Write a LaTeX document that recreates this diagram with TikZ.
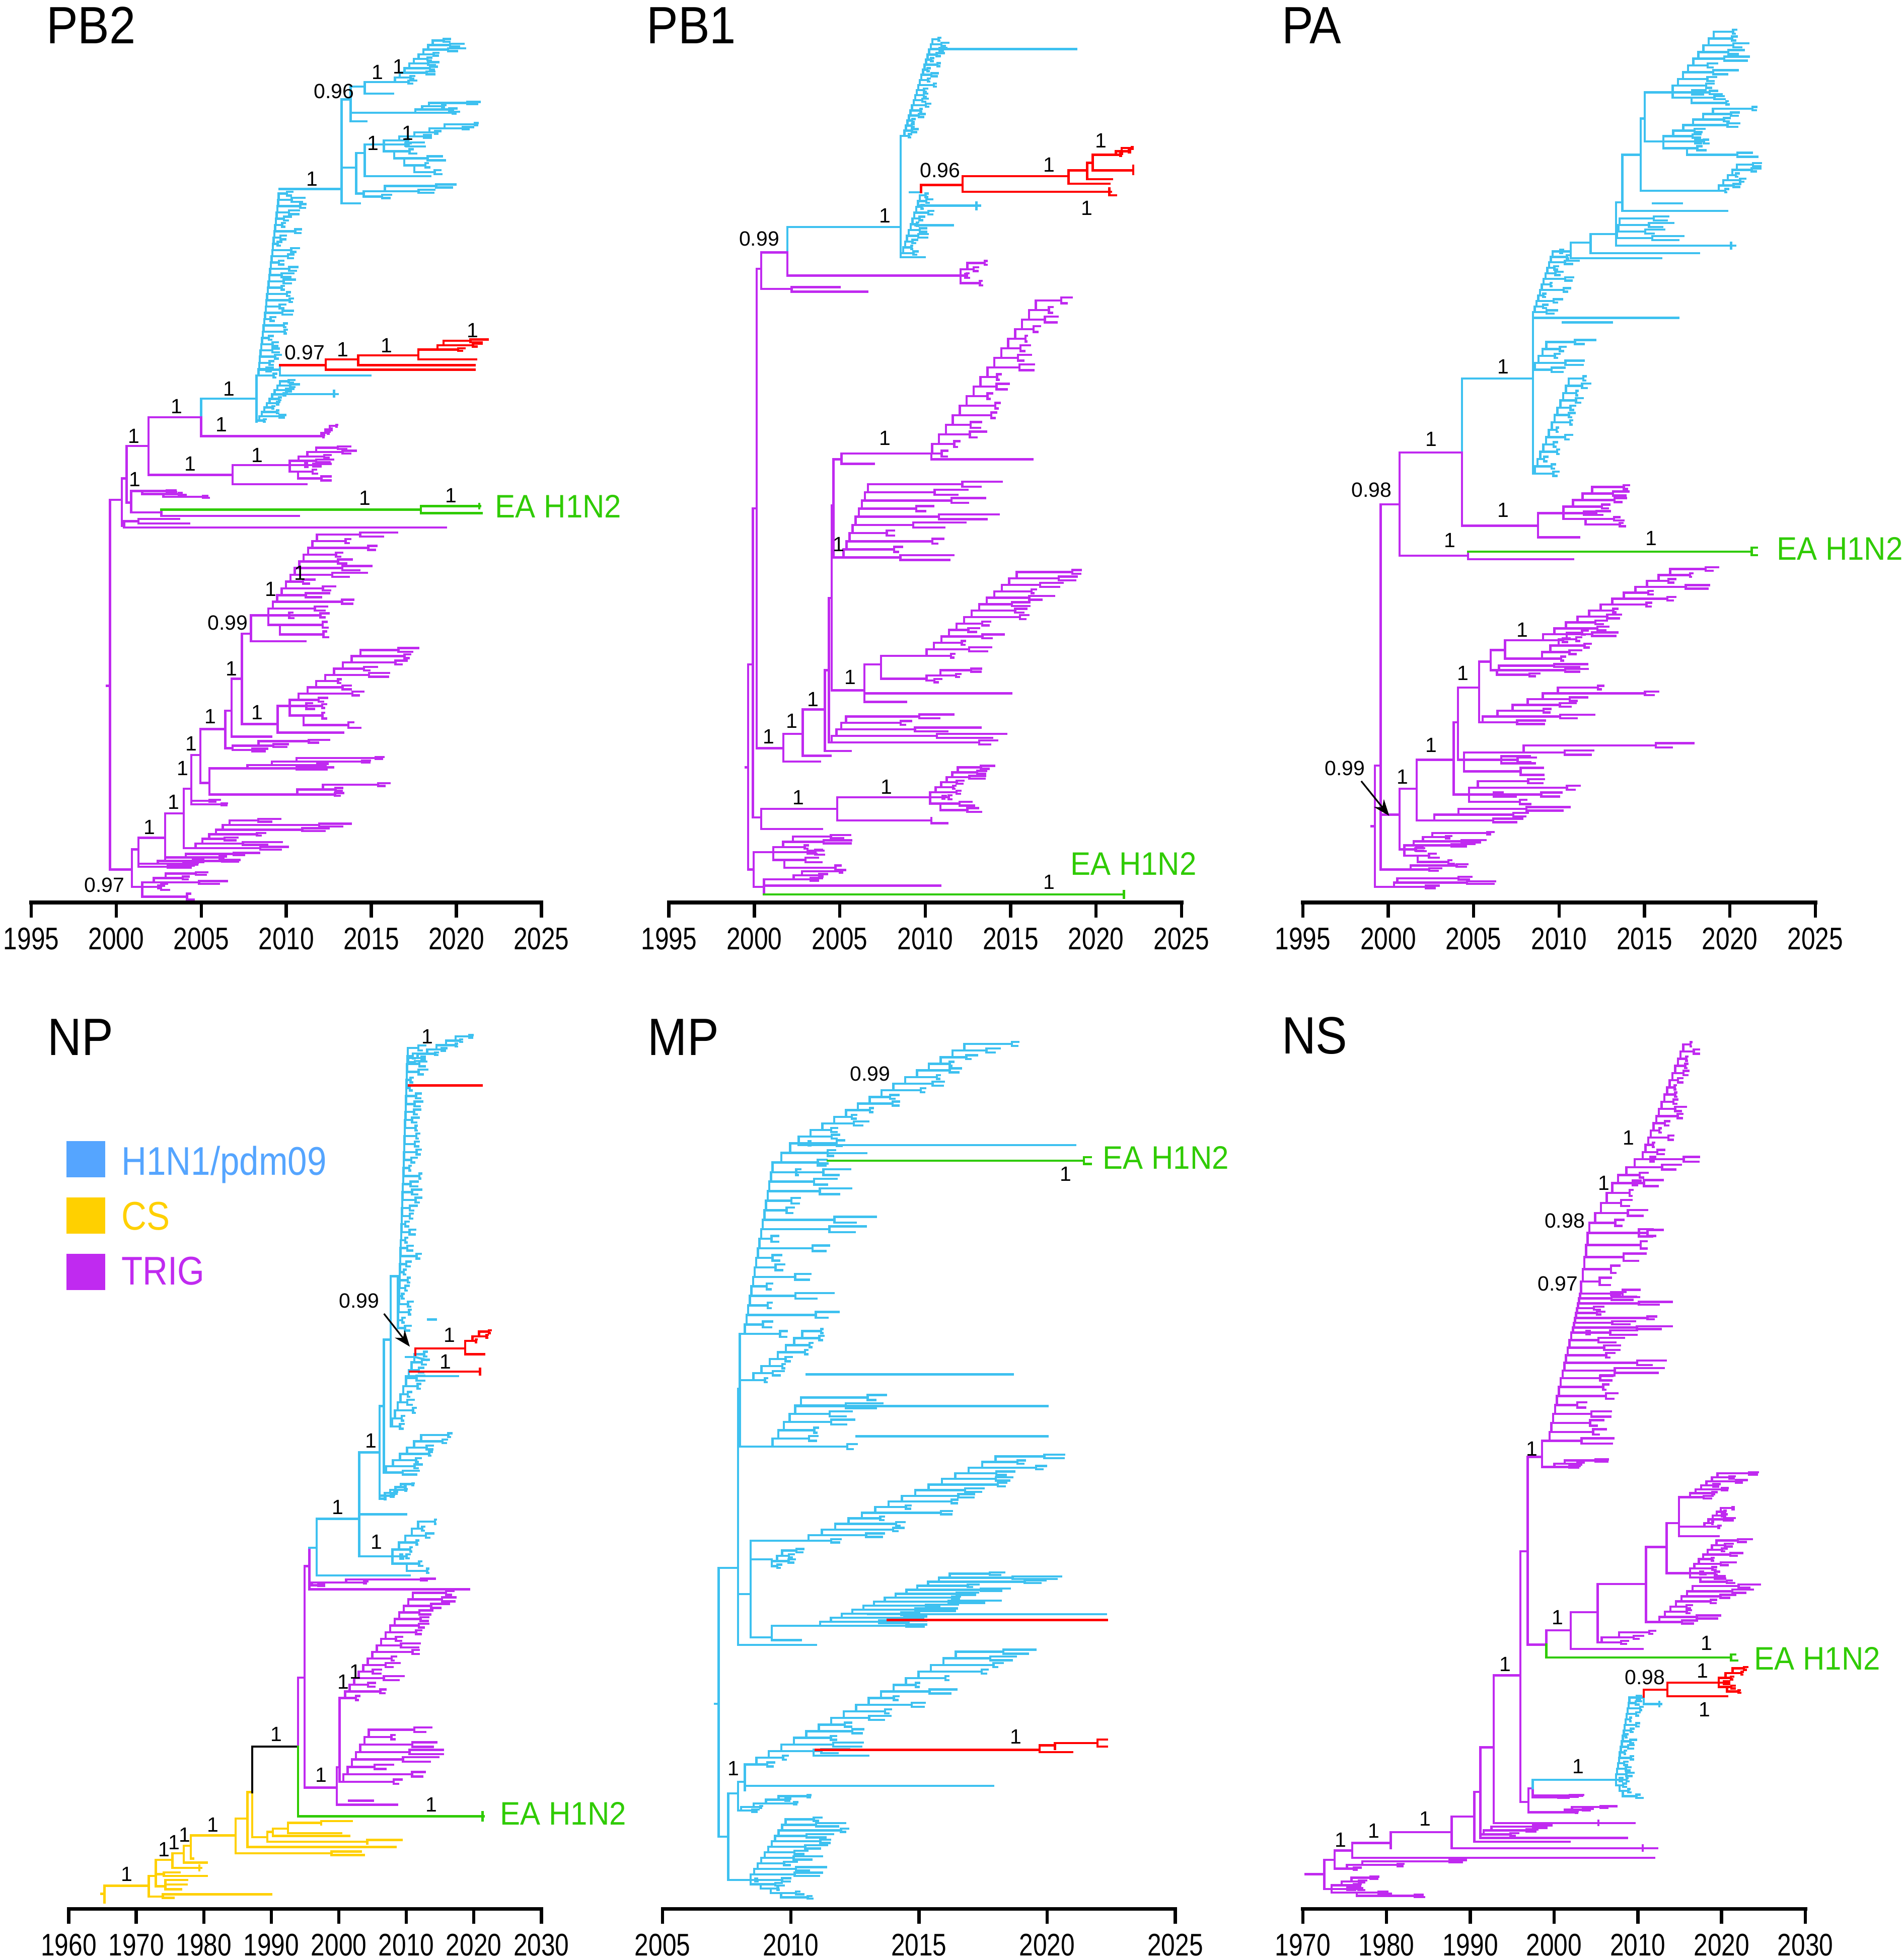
\documentclass[tikz,border=0pt]{standalone}
\usepackage{fontspec}
\setmainfont{Liberation Sans}
\newfontfamily\axfont[FakeStretch=0.8]{Liberation Sans}
\newfontfamily\ttlfont[FakeStretch=0.9]{Liberation Sans}
\newfontfamily\legfont[FakeStretch=0.87]{Liberation Sans}
\newfontfamily\eafont[FakeStretch=0.93]{Liberation Sans}
\newfontfamily\bsfont{Liberation Sans}
\usetikzlibrary{arrows.meta}
\definecolor{cB}{HTML}{3EC1F0}
\definecolor{cP}{HTML}{C02AF0}
\definecolor{cR}{HTML}{FF0000}
\definecolor{cG}{HTML}{2FCB00}
\definecolor{cY}{HTML}{FFD000}
\definecolor{cLB}{HTML}{55A5FF}
\tikzset{
  brl/.style={line width=1.8pt, line cap=rect, line join=miter},
  brB/.style={brl, draw=cB}, brP/.style={brl, draw=cP}, brR/.style={brl, draw=cR},
  brG/.style={brl, draw=cG}, brY/.style={brl, draw=cY}, brK/.style={brl, draw=black},
  bs/.style={font={\bsfont\fontsize{16.5}{18}\selectfont}, inner sep=0pt, text=black},
  ttl/.style={font={\ttlfont\fontsize{42}{44}\selectfont}, inner sep=0pt, anchor=base west},
  axlab/.style={font={\axfont\fontsize{25}{26}\selectfont}, inner sep=0pt},
  axln/.style={line width=3pt, black, line cap=rect},
  tck/.style={line width=2.6pt, black},
  ea/.style={font={\eafont\fontsize{26}{28}\selectfont}, text=cG, inner sep=0pt, anchor=base west},
  leg/.style={font={\legfont\fontsize{32}{34}\selectfont}, inner sep=0pt, anchor=base west},
  arr/.style={line width=1.3pt, black, -{Stealth[length=13pt,width=10pt]}},
}
% ladder: #1 style, (#2,#3) tip-end node, (#4,#5) root-end node, #6 leaves, #7-#8 leaf length range
\newcommand\ladder[8]{%
  \pgfmathtruncatemacro\LNq{#6-1}%
  \pgfmathsetmacro\DXq{(#4-#2)/\LNq}%
  \pgfmathsetmacro\DYq{(#5-#3)/\LNq}%
  \foreach \k in {0,...,\LNq}{%
    \pgfmathsetmacro\Xq{#2+\DXq*\k}%
    \pgfmathsetmacro\Yq{#3+\DYq*\k}%
    \pgfmathsetmacro\XNq{\Xq+\DXq}%
    \pgfmathsetmacro\YNq{\Yq+\DYq}%
    \pgfmathsetmacro\Lq{#7+rnd*(#8-#7)}%
    \pgfmathsetmacro\Fq{\Xq+\Lq*(0.5+0.4*rnd)}%
    \pgfmathsetmacro\Eq{\Xq+\Lq}%
    \pgfmathsetmacro\Tq{\Fq+(\Eq-\Fq)*(0.4+0.6*rnd)}%
    \pgfmathsetmacro\Hq{0.3*\DYq}%
    \pgfmathsetmacro\Yaq{\Yq-\Hq}%
    \pgfmathsetmacro\Ybq{\Yq+\Hq}%
    \draw[#1] (\Xq,\Yq) -- (\Fq,\Yq);
    \draw[#1] (\Eq,\Yaq) -- (\Fq,\Yaq) -- (\Fq,\Ybq) -- (\Tq,\Ybq);
    \ifnum\k<\LNq \draw[#1] (\XNq,\YNq) -- (\XNq,\Yq) -- (\Xq,\Yq);\fi
  }%
}
\begin{document}
\begin{tikzpicture}[x=1pt,y=-1pt]
\fill[white] (0,0) rectangle (1522,1568);
\useasboundingbox (0,0) rectangle (1522,1568);
\pgfmathsetseed{4242}

% ================= PB2 =================
\begin{scope}[x=0.2953pt,y=-0.4622pt]
\draw[brP] (290,1187) -- (298,1187);
\draw[brP] (298,865) -- (298,1505);
\draw[brP] (298,865) -- (330,865);
\draw[brP] (330,828) -- (330,910);
\draw[brP] (330,828) -- (343,828);
\draw[brP] (343,772) -- (343,870);
\draw[brP] (343,772) -- (402,772);
\draw[brP] (402,722) -- (402,822);
\draw[brP] (402,722) -- (545,722);
\draw[brB] (545,690) -- (545,722);
\draw[brP] (545,722) -- (545,755);
\draw[brB] (545,690) -- (695,690);
\draw[brP] (545,755) -- (870,755);
\ladder{brP}{905}{737}{870}{755}{4}{5}{15}
\draw[brP] (402,822) -- (630,822);
\draw[brP] (630,805) -- (630,838);
\draw[brP] (630,805) -- (785,805);
\draw[brP] (630,838) -- (830,838);
\ladder{brP}{880}{775}{785}{805}{5}{40}{120}
\ladder{brP}{830}{828}{785}{805}{3}{40}{100}
\draw[brP] (343,870) -- (355,870);
\draw[brP] (355,850) -- (355,887);
\draw[brP] (355,850) -- (385,850);
\ladder{brP}{500}{860}{385}{850}{3}{60}{120}
\draw[brP] (355,887) -- (437,887);
\draw[brP] (437,882) -- (437,893);
\draw[brG] (437,882) -- (1140,882);
\draw[brG] (1140,876) -- (1140,888);
\draw[brG] (1140,876) -- (1300,876);
\draw[brG] (1140,888) -- (1305,888);
\draw[brG] (1298,872) -- (1298,880);
\draw[brP] (437,893) -- (810,893);
\draw[brP] (330,910) -- (336,910);
\draw[brP] (336,902) -- (336,913);
\draw[brP] (336,902) -- (375,902);
\draw[brP] (375,898) -- (375,906);
\draw[brP] (375,898) -- (485,898);
\draw[brP] (375,906) -- (512,906);
\draw[brP] (336,913) -- (1208,913);
% lower half
\draw[brP] (298,1505) -- (357,1505);
\draw[brP] (357,1470) -- (357,1535);
\draw[brP] (357,1535) -- (385,1535);
\ladder{brP}{480}{1512}{385}{1535}{4}{50}{200}
\ladder{brP}{430}{1552}{385}{1535}{2}{50}{120}
\draw[brP] (357,1470) -- (375,1470);
\draw[brP] (375,1450) -- (375,1500);
\draw[brP] (375,1450) -- (447,1450);
\ladder{brP}{480}{1490}{375}{1500}{3}{60}{200}
\draw[brP] (447,1408) -- (447,1490);
\draw[brP] (447,1408) -- (498,1408);
\ladder{brP}{560}{1478}{447}{1490}{3}{60}{150}
\draw[brP] (498,1365) -- (498,1468);
\draw[brP] (498,1468) -- (530,1468);
\ladder{brP}{640}{1420}{530}{1468}{7}{60}{400}
\draw[brP] (498,1365) -- (518,1365);
\draw[brP] (518,1307) -- (518,1390);
\ladder{brP}{540}{1386}{518}{1392}{2}{30}{190}
\draw[brP] (518,1307) -- (543,1307);
\draw[brP] (543,1262) -- (543,1355);
\draw[brP] (543,1355) -- (567,1355);
\draw[brP] (567,1330) -- (567,1375);
\draw[brP] (567,1330) -- (670,1330);
\draw[brP] (567,1375) -- (805,1375);
\ladder{brP}{870}{1312}{670}{1330}{4}{60}{250}
\ladder{brP}{945}{1358}{805}{1375}{3}{50}{150}
\draw[brP] (543,1262) -- (610,1262);
\draw[brP] (610,1230) -- (610,1295);
\draw[brP] (610,1295) -- (630,1295);
\ladder{brP}{770}{1283}{630}{1298}{3}{60}{220}
\draw[brP] (610,1230) -- (627,1230);
\draw[brP] (627,1175) -- (627,1275);
\draw[brP] (627,1275) -- (735,1275);
\draw[brP] (627,1175) -- (655,1175);
\draw[brP] (655,1097) -- (655,1253);
\draw[brP] (655,1253) -- (752,1253);
\draw[brP] (752,1222) -- (752,1268);
\draw[brP] (752,1268) -- (930,1268);
\draw[brP] (752,1222) -- (785,1222);
\ladder{brP}{1000}{1125}{785}{1222}{10}{40}{170}
\ladder{brP}{860}{1255}{785}{1222}{3}{40}{120}
\draw[brP] (655,1097) -- (680,1097);
\draw[brP] (680,1065) -- (680,1110);
\draw[brP] (680,1110) -- (828,1110);
\draw[brP] (680,1065) -- (727,1065);
\ladder{brP}{870}{925}{727}{1065}{13}{60}{220}
\ladder{brP}{790}{1098}{727}{1065}{3}{40}{130}
% blue
\draw[brB] (695,650) -- (695,730);
\draw[brB] (695,650) -- (700,650);
\draw[brB] (695,728) -- (702,728);
\ladder{brB}{765}{660}{702}{728}{10}{15}{80}
\ladder{brB}{757}{335}{700}{650}{30}{15}{75}
\draw[brB] (700,640) -- (758,640);
\draw[brB] (758,632) -- (758,650);
\draw[brB] (758,650) -- (1003,650);
\draw[brB] (765,682) -- (915,682);
\draw[brB] (905,676) -- (905,686);
% red
\draw[brR] (758,632) -- (882,632);
\draw[brR] (882,622) -- (882,640);
\draw[brR] (882,640) -- (1285,640);
\draw[brR] (882,622) -- (970,622);
\draw[brR] (970,615) -- (970,632);
\draw[brR] (970,632) -- (1285,632);
\draw[brR] (970,615) -- (1133,615);
\draw[brR] (1133,605) -- (1133,622);
\draw[brR] (1133,622) -- (1290,622);
\draw[brR] (1133,605) -- (1185,605);
\ladder{brR}{1218}{590}{1185}{605}{3}{60}{115}
% upper blue
\draw[brB] (757,327) -- (925,327);
\draw[brB] (925,172) -- (925,352);
\draw[brB] (925,352) -- (975,352);
\draw[brB] (925,172) -- (950,172);
\draw[brB] (950,150) -- (950,210);
\draw[brB] (950,150) -- (988,150);
\draw[brB] (988,142) -- (988,162);
\draw[brB] (988,142) -- (1070,142);
\ladder{brB}{1185}{70}{1070}{142}{10}{30}{100}
\draw[brB] (988,162) -- (1065,162);
\draw[brB] (950,195) -- (1125,195);
\ladder{brB}{1180}{178}{1125}{195}{4}{40}{140}
\draw[brB] (950,210) -- (992,210);
\draw[brB] (925,290) -- (965,290);
\draw[brB] (965,265) -- (965,335);
\draw[brB] (965,265) -- (988,265);
\draw[brB] (988,250) -- (988,305);
\draw[brB] (988,250) -- (1040,250);
\ladder{brB}{1245}{215}{1040}{250}{6}{25}{80}
\ladder{brB}{1150}{298}{1040}{250}{5}{30}{120}
\draw[brB] (988,305) -- (1165,305);
\draw[brB] (965,335) -- (985,335);
\ladder{brB}{1100}{322}{985}{340}{3}{40}{150}
% labels
\node[bs] (a1) at (283,1532) {0.97};
\node[bs] (a2) at (405,1432) {1};
\node[bs] (a3) at (470,1388) {1};
\node[bs] (a4) at (495,1330) {1};
\node[bs] (a5) at (518,1287) {1};
\node[bs] (a6) at (570,1240) {1};
\node[bs] (a7) at (627,1157) {1};
\node[bs] (a8) at (617,1078) {0.99};
\node[bs] (a9) at (697,1233) {1};
\node[bs] (a10) at (733,1020) {1};
\node[bs] (a11) at (812,992) {1};
\node[bs] (a12) at (362,755) {1};
\node[bs] (a13) at (365,830) {1};
\node[bs] (a14) at (478,703) {1};
\node[bs] (a15) at (600,735) {1};
\node[bs] (a16) at (515,803) {1};
\node[bs] (a17) at (697,788) {1};
\node[bs] (a18) at (620,673) {1};
\node[bs] (a19) at (825,610) {0.97};
\node[bs] (a20) at (928,605) {1};
\node[bs] (a21) at (1047,598) {1};
\node[bs] (a22) at (1280,572) {1};
\node[bs] (a23) at (845,310) {1};
\node[bs] (a24) at (905,158) {0.96};
\node[bs] (a25) at (1022,125) {1};
\node[bs] (a26) at (1080,115) {1};
\node[bs] (a27) at (1010,248) {1};
\node[bs] (a28) at (1105,230) {1};
\node[bs] (a29) at (988,862) {1};
\node[bs] (a30) at (1222,858) {1};
\end{scope}

% ================= PB1 =================
\begin{scope}[xshift=503.3pt,x=0.2953pt,y=-0.4622pt]
\draw[brP] (315,1328) -- (322,1328);
\draw[brP] (322,1150) -- (322,1505);
\draw[brP] (322,1150) -- (335,1150);
\draw[brP] (335,880) -- (335,1415);
\draw[brP] (335,880) -- (345,880);
\draw[brP] (345,465) -- (345,1295);
\draw[brP] (345,465) -- (357,465);
\draw[brP] (357,437) -- (357,500);
\draw[brP] (357,437) -- (428,437);
\draw[brP] (357,500) -- (440,500);
\draw[brP] (440,497) -- (440,505);
\draw[brP] (440,497) -- (570,497);
\draw[brP] (440,505) -- (645,505);
\draw[brB] (428,393) -- (428,437);
\draw[brP] (428,437) -- (428,477);
\draw[brB] (428,393) -- (735,393);
\draw[brP] (428,477) -- (897,477);
\ladder{brP}{935}{455}{897}{477}{3}{8}{40}
\ladder{brP}{925}{490}{897}{477}{2}{8}{40}
% blue
\draw[brB] (735,235) -- (735,445);
\draw[brB] (735,445) -- (800,445);
\draw[brB] (735,235) -- (745,235);
\ladder{brB}{825}{68}{745}{235}{20}{10}{45}
\draw[brB] (822,85) -- (1210,85);
\draw[brB] (735,438) -- (742,438);
\ladder{brB}{792}{338}{742}{438}{11}{15}{55}
\draw[brB] (785,356) -- (950,356);
\draw[brB] (940,350) -- (940,362);
\draw[brB] (775,390) -- (877,390);
\draw[brB] (760,333) -- (790,333);
% red
\draw[brR] (790,320) -- (790,333);
\draw[brR] (790,320) -- (903,320);
\draw[brR] (903,305) -- (903,332);
\draw[brR] (903,305) -- (1190,305);
\draw[brR] (903,332) -- (1305,332);
\draw[brR] (1300,326) -- (1300,338) -- (1318,338);
\draw[brR] (1190,295) -- (1190,318);
\draw[brR] (1190,318) -- (1300,318);
\draw[brR] (1190,295) -- (1240,295);
\draw[brR] (1240,282) -- (1240,310);
\draw[brR] (1240,310) -- (1308,310);
\draw[brR] (1240,282) -- (1255,282);
\draw[brR] (1255,268) -- (1255,295);
\draw[brR] (1255,295) -- (1365,295);
\draw[brR] (1365,287) -- (1365,301);
\draw[brR] (1255,268) -- (1318,268);
\ladder{brR}{1350}{256}{1318}{268}{3}{5}{30}
% lower purple
\draw[brP] (345,1295) -- (417,1295);
\draw[brP] (417,1270) -- (417,1318);
\draw[brP] (417,1318) -- (517,1318);
\draw[brP] (417,1270) -- (470,1270);
\draw[brP] (470,1228) -- (470,1308);
\draw[brP] (470,1308) -- (545,1308);
\draw[brP] (470,1228) -- (530,1228);
\draw[brP] (530,1160) -- (530,1300);
\draw[brP] (530,1300) -- (600,1300);
\draw[brP] (530,1160) -- (541,1160);
\draw[brP] (541,1035) -- (541,1285);
\draw[brP] (541,1285) -- (548,1285);
\ladder{brP}{600}{1240}{548}{1285}{5}{150}{480}
\draw[brP] (541,1035) -- (548,1035);
\draw[brP] (548,875) -- (548,1195);
\draw[brP] (548,1195) -- (637,1195);
\draw[brP] (637,1150) -- (637,1215);
\draw[brP] (637,1215) -- (750,1215);
\draw[brP] (637,1200) -- (1035,1200);
\draw[brP] (637,1150) -- (682,1150);
\draw[brP] (682,1135) -- (682,1175);
\draw[brP] (682,1175) -- (805,1175);
\ladder{brP}{880}{1160}{805}{1178}{3}{30}{90}
\draw[brP] (682,1135) -- (805,1135);
\ladder{brP}{1070}{990}{805}{1135}{14}{40}{170}
\draw[brP] (548,875) -- (553,875);
\draw[brP] (553,795) -- (553,965);
\draw[brP] (553,795) -- (575,795);
\draw[brP] (575,785) -- (575,803);
\draw[brP] (575,785) -- (818,785);
\draw[brP] (575,803) -- (663,803);
\ladder{brP}{1120}{520}{820}{785}{17}{30}{110}
\draw[brP] (818,785) -- (818,795) -- (1092,795);
\draw[brP] (553,965) -- (580,965);
\ladder{brP}{655}{838}{580}{965}{10}{80}{430}
\draw[brP] (335,1415) -- (357,1415);
\draw[brP] (357,1400) -- (357,1435);
\draw[brP] (357,1435) -- (522,1435);
\draw[brP] (357,1400) -- (563,1400);
\draw[brP] (563,1380) -- (563,1420);
\draw[brP] (563,1420) -- (818,1420);
\draw[brP] (818,1416) -- (818,1425) -- (862,1425);
\draw[brP] (563,1380) -- (815,1380);
\ladder{brP}{905}{1328}{815}{1380}{7}{30}{100}
\ladder{brP}{870}{1402}{815}{1380}{3}{40}{120}
% bottom
\draw[brP] (322,1505) -- (337,1505);
\draw[brP] (337,1475) -- (337,1535);
\draw[brP] (337,1475) -- (390,1475);
\ladder{brP}{470}{1448}{390}{1475}{4}{60}{260}
\ladder{brP}{450}{1502}{390}{1475}{3}{60}{200}
\draw[brP] (337,1535) -- (365,1535);
\draw[brP] (365,1522) -- (365,1548);
\draw[brP] (365,1522) -- (445,1522);
\ladder{brP}{490}{1508}{445}{1522}{3}{40}{100}
\draw[brP] (365,1533) -- (843,1533);
\draw[brG] (365,1548) -- (1340,1548);
\draw[brG] (1340,1542) -- (1340,1554);
% labels
\node[bs] (c1) at (352,413) {0.99};
\node[bs] (c2) at (692,373) {1};
\node[bs] (c3) at (842,295) {0.96};
\node[bs] (c4) at (1137,285) {1};
\node[bs] (c5) at (1278,243) {1};
\node[bs] (c6) at (1240,360) {1};
\node[bs] (c7) at (692,758) {1};
\node[bs] (c8) at (567,942) {1};
\node[bs] (c9) at (598,1172) {1};
\node[bs] (c10) at (497,1210) {1};
\node[bs] (c11) at (440,1248) {1};
\node[bs] (c12) at (378,1275) {1};
\node[bs] (c13) at (458,1380) {1};
\node[bs] (c14) at (697,1362) {1};
\node[bs] (c15) at (1137,1527) {1};
\end{scope}

% ================= PA =================
\begin{scope}[xshift=1006.6pt,x=0.3287pt,y=-0.4622pt]
\draw[brP] (275,1430) -- (283,1430);
\draw[brP] (283,1325) -- (283,1535);
\draw[brP] (283,1325) -- (297,1325);
\draw[brP] (297,873) -- (297,1505);
\draw[brP] (297,873) -- (343,873);
\draw[brP] (343,783) -- (343,962);
\draw[brP] (343,783) -- (495,783);
\draw[brB] (495,655) -- (495,783);
\draw[brP] (495,783) -- (495,910);
\draw[brB] (495,655) -- (668,655);
\draw[brP] (495,910) -- (680,910);
\draw[brP] (680,888) -- (680,930);
\draw[brP] (680,930) -- (780,930);
\draw[brP] (680,888) -- (742,888);
\ladder{brP}{835}{843}{742}{888}{5}{40}{120}
\ladder{brP}{850}{908}{742}{888}{3}{40}{100}
\draw[brP] (343,962) -- (510,962);
\draw[brP] (510,955) -- (510,968);
\draw[brG] (510,955) -- (1200,955);
\draw[brG] (1200,948) -- (1200,961);
\draw[brG] (1200,948) -- (1213,948);
\draw[brG] (1200,961) -- (1213,961);
\draw[brP] (510,968) -- (765,968);
% blue
\draw[brB] (668,540) -- (668,820);
\draw[brB] (668,540) -- (672,540);
\ladder{brB}{720}{435}{672}{540}{12}{10}{70}
\draw[brB] (668,550) -- (1022,550);
\draw[brB] (740,558) -- (860,558);
\ladder{brB}{710}{592}{672}{640}{5}{30}{110}
\ladder{brB}{762}{655}{672}{820}{14}{10}{60}
\draw[brB] (720,435) -- (760,435);
\draw[brB] (760,420) -- (760,447);
\draw[brB] (760,447) -- (980,447);
\draw[brB] (760,420) -- (808,420);
\draw[brB] (808,405) -- (808,438);
\draw[brB] (808,438) -- (1072,438);
\draw[brB] (808,405) -- (870,405);
\draw[brB] (870,350) -- (870,425);
\draw[brB] (870,425) -- (1160,425);
\draw[brB] (1150,420) -- (1150,430);
\ladder{brB}{882}{378}{872}{412}{4}{100}{200}
\draw[brB] (870,350) -- (885,350);
\draw[brB] (885,268) -- (885,365);
\draw[brB] (885,365) -- (1140,365);
\draw[brB] (960,352) -- (1030,352);
\draw[brB] (885,268) -- (930,268);
\draw[brB] (930,205) -- (930,330);
\draw[brB] (930,330) -- (1120,330);
\ladder{brB}{1175}{285}{1120}{330}{6}{15}{60}
\draw[brB] (930,205) -- (940,205);
\draw[brB] (940,160) -- (940,245);
\draw[brB] (940,160) -- (1008,160);
\ladder{brB}{1120}{55}{1008}{160}{10}{40}{130}
\ladder{brB}{1100}{178}{1008}{160}{3}{40}{120}
\draw[brB] (940,245) -- (985,245);
\ladder{brB}{1130}{188}{985}{245}{7}{40}{140}
\ladder{brB}{1100}{268}{985}{245}{3}{40}{120}
% lower purple
\draw[brP] (297,1410) -- (343,1410);
\draw[brP] (343,1365) -- (343,1470);
\draw[brP] (343,1365) -- (385,1365);
\draw[brP] (343,1470) -- (355,1470);
\ladder{brP}{445}{1442}{355}{1470}{5}{30}{200}
\ladder{brP}{420}{1492}{355}{1470}{3}{30}{150}
\draw[brP] (385,1315) -- (385,1420);
\draw[brP] (385,1420) -- (428,1420);
\ladder{brP}{545}{1400}{428}{1420}{3}{100}{260}
\draw[brP] (385,1315) -- (475,1315);
\draw[brP] (475,1250) -- (475,1375);
\draw[brP] (475,1375) -- (512,1375);
\ladder{brP}{555}{1352}{512}{1375}{3}{120}{400}
\ladder{brP}{540}{1388}{512}{1375}{2}{100}{250}
\draw[brP] (475,1250) -- (485,1250);
\draw[brP] (485,1190) -- (485,1315);
\draw[brP] (485,1315) -- (500,1315);
\ladder{brP}{790}{1290}{500}{1315}{3}{60}{350}
\ladder{brP}{540}{1335}{500}{1315}{2}{60}{200}
\draw[brP] (485,1190) -- (537,1190);
\draw[brP] (537,1145) -- (537,1250);
\draw[brP] (537,1250) -- (545,1250);
\ladder{brP}{765}{1190}{545}{1250}{7}{60}{260}
\draw[brP] (537,1145) -- (565,1145);
\draw[brP] (565,1125) -- (565,1160);
\draw[brP] (565,1160) -- (580,1160);
\ladder{brP}{590}{1152}{580}{1168}{3}{100}{300}
\draw[brP] (565,1125) -- (600,1125);
\draw[brP] (600,1108) -- (600,1140);
\draw[brP] (600,1140) -- (690,1140);
\draw[brP] (600,1108) -- (692,1108);
\ladder{brP}{1030}{985}{692}{1108}{13}{40}{170}
\ladder{brP}{770}{1095}{690}{1140}{5}{30}{80}
\draw[brP] (297,1505) -- (370,1505);
\ladder{brP}{420}{1498}{370}{1505}{2}{60}{120}
\draw[brP] (283,1535) -- (330,1535);
\ladder{brP}{345}{1520}{330}{1535}{3}{100}{250}
% labels
\node[bs] (d1) at (595,635) {1};
\node[bs] (d2) at (420,760) {1};
\node[bs] (d3) at (275,848) {0.98};
\node[bs] (d4) at (595,883) {1};
\node[bs] (d5) at (465,935) {1};
\node[bs] (d6) at (955,932) {1};
\node[bs] (d7) at (642,1090) {1};
\node[bs] (d8) at (497,1165) {1};
\node[bs] (d9) at (420,1290) {1};
\node[bs] (d10) at (350,1345) {1};
\node[bs] (d11) at (210,1330) {0.99};
\coordinate (d11s) at (250,1352);
\coordinate (d11e) at (318,1412);
\draw[arr] (d11s) -- (d11e);
\end{scope}

% ================= NP =================
\begin{scope}[yshift=-785.2pt,x=0.2953pt,y=-0.4622pt]
% yellow (CS)
\draw[brY] (275,1579) -- (283,1579);
\draw[brY] (283,1565) -- (283,1594);
\draw[brY] (283,1565) -- (403,1565);
\draw[brY] (403,1548) -- (403,1584);
\draw[brY] (403,1584) -- (441,1584);
\draw[brY] (441,1580) -- (441,1586);
\draw[brY] (441,1580) -- (735,1580);
\draw[brY] (441,1586) -- (470,1586);
\draw[brY] (403,1548) -- (422,1548);
\draw[brY] (422,1520) -- (422,1566);
\draw[brY] (422,1545) -- (444,1545);
\draw[brY] (444,1542) -- (444,1548);
\draw[brY] (444,1542) -- (486,1542);
\draw[brY] (444,1548) -- (560,1548);
\draw[brY] (422,1566) -- (448,1566);
\draw[brY] (448,1555) -- (448,1571);
\draw[brY] (448,1555) -- (507,1555);
\draw[brY] (448,1563) -- (505,1563);
\draw[brY] (448,1571) -- (491,1571);
\draw[brY] (422,1520) -- (467,1520);
\draw[brY] (467,1509) -- (467,1534);
\draw[brY] (467,1534) -- (545,1534);
\draw[brY] (540,1530) -- (540,1538);
\draw[brY] (467,1509) -- (498,1509);
\draw[brY] (498,1496) -- (498,1525);
\draw[brY] (498,1525) -- (560,1525);
\draw[brY] (498,1496) -- (517,1496);
\draw[brY] (517,1478) -- (517,1518);
\draw[brY] (517,1518) -- (523,1518);
\draw[brY] (517,1478) -- (638,1478);
\draw[brY] (638,1449) -- (638,1509);
\draw[brY] (638,1509) -- (898,1509);
\draw[brY] (898,1506) -- (898,1512);
\draw[brY] (898,1506) -- (978,1506);
\draw[brY] (898,1512) -- (986,1512);
\draw[brY] (638,1449) -- (670,1449);
\draw[brY] (670,1403) -- (670,1498);
\draw[brY] (670,1498) -- (1071,1498);
\draw[brY] (670,1403) -- (683,1403);
\draw[brY] (683,1403) -- (683,1481);
\draw[brY] (683,1481) -- (724,1481);
\draw[brY] (724,1472) -- (724,1489);
\draw[brY] (724,1489) -- (995,1489);
\draw[brY] (995,1486) -- (995,1492);
\draw[brY] (995,1486) -- (1088,1486);
\draw[brY] (724,1472) -- (739,1472);
\draw[brY] (739,1466) -- (739,1479);
\draw[brY] (739,1479) -- (946,1479);
\draw[brY] (739,1466) -- (780,1466);
\draw[brY] (780,1456) -- (780,1474);
\draw[brY] (780,1474) -- (924,1474);
\draw[brY] (780,1456) -- (870,1456);
\draw[brY] (870,1453) -- (870,1459);
\draw[brY] (870,1453) -- (953,1453);
\draw[brK] (683,1324) -- (683,1403);
\draw[brK] (683,1324) -- (807,1324);
% purple/green
\draw[brP] (807,1205) -- (807,1324);
\draw[brG] (807,1324) -- (807,1445);
\draw[brG] (807,1445) -- (1310,1445);
\draw[brG] (1307,1438) -- (1307,1452);
\draw[brP] (807,1205) -- (825,1205);
\draw[brP] (825,1012) -- (825,1395);
\draw[brP] (825,1395) -- (912,1395);
\draw[brP] (912,1360) -- (912,1425);
\draw[brP] (912,1425) -- (1075,1425);
\draw[brP] (945,1418) -- (1010,1418);
\draw[brP] (912,1360) -- (920,1360);
\draw[brP] (920,1240) -- (920,1385);
\draw[brP] (920,1385) -- (930,1385);
\ladder{brP}{1010}{1295}{930}{1385}{8}{40}{240}
\draw[brP] (920,1240) -- (935,1240);
\ladder{brP}{1130}{1058}{935}{1240}{17}{30}{130}
\draw[brP] (825,1012) -- (838,1012);
\draw[brP] (838,980) -- (838,1052);
\draw[brP] (838,1052) -- (1270,1052);
\draw[brP] (838,1045) -- (845,1045);
\ladder{brP}{1030}{1035}{845}{1045}{3}{30}{150}
% blue
\draw[brB] (838,980) -- (858,980);
\draw[brB] (858,930) -- (858,1028);
\draw[brB] (858,1028) -- (1110,1028);
\draw[brB] (858,930) -- (973,930);
\draw[brB] (973,815) -- (973,995);
\draw[brB] (973,995) -- (1063,995);
\ladder{brB}{1150}{935}{1063}{995}{6}{15}{60}
\ladder{brB}{1140}{1020}{1063}{995}{3}{15}{60}
\draw[brB] (973,922) -- (1100,922);
\draw[brB] (973,815) -- (1028,815);
\draw[brB] (1028,735) -- (1028,895);
\ladder{brB}{1100}{870}{1028}{895}{6}{10}{40}
\draw[brB] (1028,735) -- (1040,735);
\draw[brB] (1040,620) -- (1040,850);
\draw[brB] (1040,850) -- (1045,850);
\ladder{brB}{1160}{785}{1045}{850}{7}{50}{140}
\draw[brB] (1040,620) -- (1058,620);
\draw[brB] (1058,510) -- (1058,770);
\ladder{brB}{1130}{645}{1062}{770}{10}{10}{60}
\draw[brB] (1058,770) -- (1062,770);
\draw[brB] (1100,683) -- (1240,683);
\draw[brB] (1058,510) -- (1078,510);
\draw[brB] (1078,510) -- (1078,600);
\ladder{brB}{1105}{115}{1078}{600}{36}{10}{55}
\ladder{brB}{1260}{95}{1105}{140}{7}{15}{40}
\draw[brB] (1160,585) -- (1180,585);
% red
\draw[brR] (1108,180) -- (1305,180);
\draw[brB] (1100,650) -- (1125,650);
\draw[brR] (1125,635) -- (1125,650);
\draw[brB] (1125,650) -- (1155,655);
\draw[brR] (1125,635) -- (1260,635);
\draw[brR] (1260,622) -- (1260,645);
\draw[brR] (1260,645) -- (1312,645);
\draw[brR] (1260,622) -- (1280,622);
\ladder{brR}{1315}{606}{1280}{622}{3}{8}{25}
\draw[brR] (1110,675) -- (1300,675);
\draw[brR] (1300,670) -- (1300,680);
% labels
\node[bs] (e1) at (1157,95) {1};
\node[bs] (e2) at (973,553) {0.99};
\coordinate (e2s) at (1040,575);
\coordinate (e2e) at (1110,632);
\draw[arr] (e2s) -- (e2e);
\node[bs] (e3) at (1218,612) {1};
\node[bs] (e4) at (1207,658) {1};
\node[bs] (e5) at (1005,795) {1};
\node[bs] (e6) at (915,910) {1};
\node[bs] (e7) at (1020,970) {1};
\node[bs] (e8) at (930,1212) {1};
\node[bs] (e9) at (962,1195) {1};
\node[bs] (e10) at (870,1373) {1};
\node[bs] (e11) at (748,1303) {1};
\node[bs] (e12) at (1168,1425) {1};
\node[bs] (e13) at (576,1460) {1};
\node[bs] (e14) at (500,1477) {1};
\node[bs] (e15) at (472,1490) {1};
\node[bs] (e16) at (444,1502) {1};
\node[bs] (e17) at (344,1545) {1};
\end{scope}

% ================= MP =================
\begin{scope}[xshift=503.3pt,yshift=-785.2pt,x=0.3082pt,y=-0.4622pt]
\draw[brB] (222,1250) -- (232,1250);
\draw[brB] (232,1015) -- (232,1480);
\draw[brB] (232,1015) -- (282,1015);
\draw[brB] (282,705) -- (282,1148);
\draw[brB] (282,1148) -- (485,1148);
\draw[brB] (282,1060) -- (315,1060);
\draw[brB] (315,968) -- (315,1135);
\draw[brB] (282,705) -- (287,705);
\draw[brB] (287,610) -- (287,805);
\draw[brB] (287,805) -- (372,805);
\ladder{brB}{460}{720}{372}{805}{7}{40}{230}
\draw[brB] (430,735) -- (1085,735);
\draw[brB] (590,787) -- (1085,787);
\draw[brB] (287,690) -- (322,690);
\ladder{brB}{470}{605}{322}{690}{8}{20}{100}
\draw[brB] (460,680) -- (995,680);
\draw[brB] (287,610) -- (300,610);
\ladder{brB}{372}{330}{300}{610}{18}{40}{300}
\ladder{brB}{440}{280}{372}{330}{4}{60}{200}
\ladder{brB}{900}{108}{440}{280}{16}{20}{120}
\draw[brB] (440,283) -- (1157,283);
\draw[brB] (455,297) -- (615,297);
\draw[brB] (495,315) -- (515,315);
\draw[brG] (515,310) -- (1180,310);
\draw[brG] (1180,304) -- (1180,316);
\draw[brG] (1180,304) -- (1198,304);
\draw[brG] (1180,316) -- (1198,316);
% middle
\draw[brB] (315,968) -- (465,968);
\ladder{brB}{985}{822}{465}{968}{16}{50}{200}
\draw[brB] (315,1000) -- (370,1000);
\ladder{brB}{410}{985}{370}{1012}{4}{20}{60}
\draw[brB] (315,1135) -- (370,1135);
\draw[brB] (370,1115) -- (370,1140);
\draw[brB] (370,1140) -- (445,1140);
\draw[brB] (370,1115) -- (495,1115);
\ladder{brB}{860}{1025}{495}{1115}{14}{100}{320}
\draw[brB] (620,1095) -- (1237,1095);
\draw[brR] (670,1105) -- (1240,1105);
% bottom
\draw[brB] (232,1480) -- (257,1480);
\draw[brB] (257,1405) -- (257,1555);
\draw[brB] (257,1405) -- (282,1405);
\draw[brB] (282,1385) -- (282,1435);
\draw[brB] (282,1435) -- (290,1435);
\ladder{brB}{420}{1410}{290}{1435}{5}{20}{100}
\draw[brB] (282,1385) -- (300,1385);
\draw[brB] (300,1355) -- (300,1400);
\draw[brB] (300,1392) -- (945,1392);
\draw[brB] (300,1355) -- (330,1355);
\ladder{brB}{880}{1160}{330}{1355}{18}{30}{180}
\draw[brR] (478,1330) -- (1065,1330);
\draw[brB] (478,1330) -- (478,1340) -- (620,1340);
\draw[brR] (1065,1322) -- (1065,1334);
\draw[brR] (1065,1334) -- (1150,1334);
\draw[brR] (1065,1322) -- (1105,1322);
\draw[brR] (1105,1318) -- (1105,1328);
\draw[brR] (1105,1318) -- (1215,1318);
\draw[brR] (1215,1312) -- (1215,1324);
\draw[brR] (1215,1312) -- (1240,1312);
\draw[brR] (1215,1324) -- (1240,1324);
\draw[brB] (257,1555) -- (315,1555);
\ladder{brB}{415}{1450}{315}{1555}{12}{20}{180}
\ladder{brB}{420}{1585}{315}{1555}{5}{15}{80}
% labels
\node[bs] (f1) at (625,160) {0.99};
\node[bs] (f2) at (1133,333) {1};
\node[bs] (f3) at (1003,1307) {1};
\node[bs] (f4) at (270,1362) {1};
\end{scope}

% ================= NS =================
\begin{scope}[xshift=1006.6pt,yshift=-785.2pt,x=0.3287pt,y=-0.3467pt]
\draw[brP] (115,2060) -- (160,2060);
\draw[brP] (160,2027) -- (160,2094);
\draw[brP] (160,2094) -- (178,2094);
\ladder{brP}{250}{2068}{178}{2094}{4}{20}{60}
\ladder{brP}{300}{2110}{178}{2094}{3}{30}{120}
\draw[brP] (160,2027) -- (185,2027);
\draw[brP] (185,2005) -- (185,2047);
\draw[brP] (185,2047) -- (215,2047);
\ladder{brP}{290}{2030}{215}{2047}{3}{30}{230}
\draw[brP] (185,2005) -- (228,2005);
\draw[brP] (228,1988) -- (228,2022);
\draw[brP] (228,2022) -- (963,2022);
\draw[brP] (228,1988) -- (322,1988);
\draw[brP] (322,1963) -- (322,2000);
\draw[brP] (322,1963) -- (470,1963);
\draw[brP] (470,1927) -- (470,2000);
\draw[brP] (470,2000) -- (970,2000);
\draw[brP] (935,1993) -- (935,2005);
\draw[brP] (470,1927) -- (525,1927);
\draw[brP] (525,1870) -- (525,1985);
\draw[brP] (525,1985) -- (757,1985);
\draw[brP] (525,1870) -- (540,1870);
\draw[brP] (540,1767) -- (540,1976);
\draw[brP] (540,1976) -- (897,1976);
\ladder{brP}{585}{1950}{548}{1968}{3}{80}{180}
\draw[brP] (540,1968) -- (548,1968);
\draw[brP] (540,1767) -- (572,1767);
\draw[brP] (572,1601) -- (572,1942);
\draw[brP] (572,1942) -- (915,1942);
\draw[brP] (827,1936) -- (827,1946);
\draw[brP] (572,1601) -- (637,1601);
\draw[brP] (637,1315) -- (637,1893);
\draw[brP] (637,1893) -- (657,1893);
\draw[brP] (657,1862) -- (657,1917);
\draw[brP] (657,1862) -- (667,1862);
\draw[brP] (667,1862) -- (667,1882);
\ladder{brP}{700}{1878}{667}{1882}{2}{80}{120}
\draw[brP] (657,1917) -- (745,1917);
\ladder{brP}{780}{1905}{745}{1917}{3}{20}{100}
\draw[brB] (667,1842) -- (667,1862);
\draw[brB] (667,1842) -- (870,1842);
\ladder{brB}{905}{1652}{870}{1842}{16}{8}{40}
\ladder{brB}{895}{1880}{870}{1842}{4}{8}{40}
\draw[brB] (905,1652) -- (937,1652);
\draw[brB] (937,1649) -- (937,1667) -- (980,1667);
\draw[brB] (975,1662) -- (975,1672);
\draw[brR] (937,1634) -- (937,1650);
\draw[brR] (937,1634) -- (995,1634);
\draw[brR] (995,1618) -- (995,1649);
\draw[brR] (995,1649) -- (1140,1649);
\draw[brR] (995,1618) -- (1120,1618);
\ladder{brR}{1170}{1585}{1120}{1618}{4}{10}{40}
\ladder{brR}{1160}{1638}{1120}{1618}{3}{10}{35}
% upper NS
\draw[brP] (637,1315) -- (655,1315);
\draw[brP] (655,1097) -- (655,1530);
\draw[brP] (655,1530) -- (700,1530);
\draw[brP] (700,1497) -- (700,1530);
\draw[brG] (700,1530) -- (700,1560) -- (1150,1560);
\draw[brG] (1150,1553) -- (1150,1567) -- (1165,1567);
\draw[brG] (1150,1553) -- (1160,1553);
\draw[brP] (700,1497) -- (760,1497);
\draw[brP] (760,1455) -- (760,1540);
\draw[brP] (760,1540) -- (935,1540);
\draw[brP] (760,1455) -- (825,1455);
\draw[brP] (825,1390) -- (825,1525);
\draw[brP] (825,1525) -- (835,1525);
\ladder{brP}{920}{1502}{835}{1525}{3}{20}{80}
\draw[brP] (825,1390) -- (943,1390);
\draw[brP] (943,1305) -- (943,1478);
\draw[brP] (943,1478) -- (975,1478);
\ladder{brP}{1070}{1395}{975}{1478}{8}{30}{150}
\draw[brP] (943,1305) -- (993,1305);
\draw[brP] (993,1250) -- (993,1365);
\draw[brP] (993,1365) -- (1050,1365);
\ladder{brP}{1125}{1290}{1050}{1365}{8}{10}{90}
\ladder{brP}{1100}{1385}{1050}{1365}{3}{10}{80}
\draw[brP] (993,1250) -- (1023,1250);
\draw[brP] (1023,1190) -- (1023,1280);
\draw[brP] (1023,1280) -- (1120,1280);
\draw[brP] (1023,1190) -- (1050,1190);
\ladder{brP}{1130}{1135}{1050}{1190}{7}{15}{90}
\draw[brP] (1023,1258) -- (1085,1258);
\ladder{brP}{1135}{1215}{1085}{1258}{6}{10}{55}
\draw[brP] (655,1097) -- (690,1097);
\draw[brP] (690,1060) -- (690,1120);
\draw[brP] (690,1120) -- (720,1120);
\ladder{brP}{770}{1105}{720}{1120}{3}{40}{130}
\draw[brP] (690,1060) -- (708,1060);
\ladder{brP}{1040}{145}{935}{410}{17}{10}{60}
\ladder{brP}{935}{410}{875}{465}{4}{40}{170}
\ladder{brP}{875}{465}{805}{580}{6}{30}{180}
\ladder{brP}{805}{580}{785}{720}{6}{30}{170}
\ladder{brP}{785}{720}{765}{810}{9}{40}{250}
\ladder{brP}{765}{810}{740}{915}{7}{40}{250}
\ladder{brP}{740}{915}{708}{1060}{8}{30}{180}
% labels
\node[bs] (g1) at (900,360) {1};
\node[bs] (g2) at (840,465) {1};
\node[bs] (g3) at (745,552) {0.98};
\node[bs] (g4) at (728,697) {0.97};
\node[bs] (g5) at (665,1078) {1};
\node[bs] (g6) at (728,1467) {1};
\node[bs] (g7) at (1090,1527) {1};
\node[bs] (g8) at (940,1606) {0.98};
\node[bs] (g9) at (1080,1590) {1};
\node[bs] (g10) at (1085,1680) {1};
\node[bs] (g11) at (778,1811) {1};
\node[bs] (g12) at (600,1575) {1};
\node[bs] (g13) at (405,1932) {1};
\node[bs] (g14) at (280,1960) {1};
\node[bs] (g15) at (200,1981) {1};
\end{scope}

% ================= titles, EA labels, legend =================
\node[ttl] (tPB2) at (37,35) {PB2};
\node[ttl] (tPB1) at (517,35) {PB1};
\node[ttl] (tPA) at (1025,35) {PA};
\node[ttl] (tNP) at (38,844) {NP};
\node[ttl] (tMP) at (518,844) {MP};
\node[ttl] (tNS) at (1025,843) {NS};
\node[ea] (eaPB2) at (396,414) {EA H1N2};
\node[ea] (eaPB1) at (856,700) {EA H1N2};
\node[ea] (eaPA) at (1421,448) {EA H1N2};
\node[ea] (eaNP) at (400,1460) {EA H1N2};
\node[ea] (eaMP) at (882,935) {EA H1N2};
\node[ea] (eaNS) at (1403,1336) {EA H1N2};
\fill[cLB] (53,913) rectangle (84,942);
\fill[cY] (53,958) rectangle (84,987);
\fill[cP] (53,1003) rectangle (84,1032);
\node[leg, text=cLB] (lgA) at (97,940) {H1N1/pdm09};
\node[leg, text=cY] (lgB) at (97,984) {CS};
\node[leg, text=cP] (lgC) at (97,1028) {TRIG};

% ================= axes =================
\draw[axln] (25,722) -- (433,722);
\foreach \i in {0,...,6}{
  \pgfmathsetmacro\tx{25+68*\i}
  \pgfmathtruncatemacro\yr{1995+5*\i}
  \draw[tck] (\tx,722) -- (\tx,734);
  \node[axlab] (xa\i) at (\tx,751) {\yr};
}
\draw[axln] (535,722) -- (945,722);
\foreach \i in {0,...,6}{
  \pgfmathsetmacro\tx{535+68.33*\i}
  \pgfmathtruncatemacro\yr{1995+5*\i}
  \draw[tck] (\tx,722) -- (\tx,734);
  \node[axlab] (xb\i) at (\tx,751) {\yr};
}
\draw[axln] (1042,722) -- (1452,722);
\foreach \i in {0,...,6}{
  \pgfmathsetmacro\tx{1042+68.33*\i}
  \pgfmathtruncatemacro\yr{1995+5*\i}
  \draw[tck] (\tx,722) -- (\tx,734);
  \node[axlab] (xc\i) at (\tx,751) {\yr};
}
\draw[axln] (55,1527) -- (433,1527);
\foreach \i in {0,...,7}{
  \pgfmathsetmacro\tx{55+54*\i}
  \pgfmathtruncatemacro\yr{1960+10*\i}
  \draw[tck] (\tx,1527) -- (\tx,1539);
  \node[axlab] (xd\i) at (\tx,1556) {\yr};
}
\draw[axln] (530,1527) -- (940,1527);
\foreach \i in {0,...,4}{
  \pgfmathsetmacro\tx{530+102.5*\i}
  \pgfmathtruncatemacro\yr{2005+5*\i}
  \draw[tck] (\tx,1527) -- (\tx,1539);
  \node[axlab] (xe\i) at (\tx,1556) {\yr};
}
\draw[axln] (1042,1527) -- (1444,1527);
\foreach \i in {0,...,6}{
  \pgfmathsetmacro\tx{1042+67*\i}
  \pgfmathtruncatemacro\yr{1970+10*\i}
  \draw[tck] (\tx,1527) -- (\tx,1539);
  \node[axlab] (xf\i) at (\tx,1556) {\yr};
}
\end{tikzpicture}
\end{document}
